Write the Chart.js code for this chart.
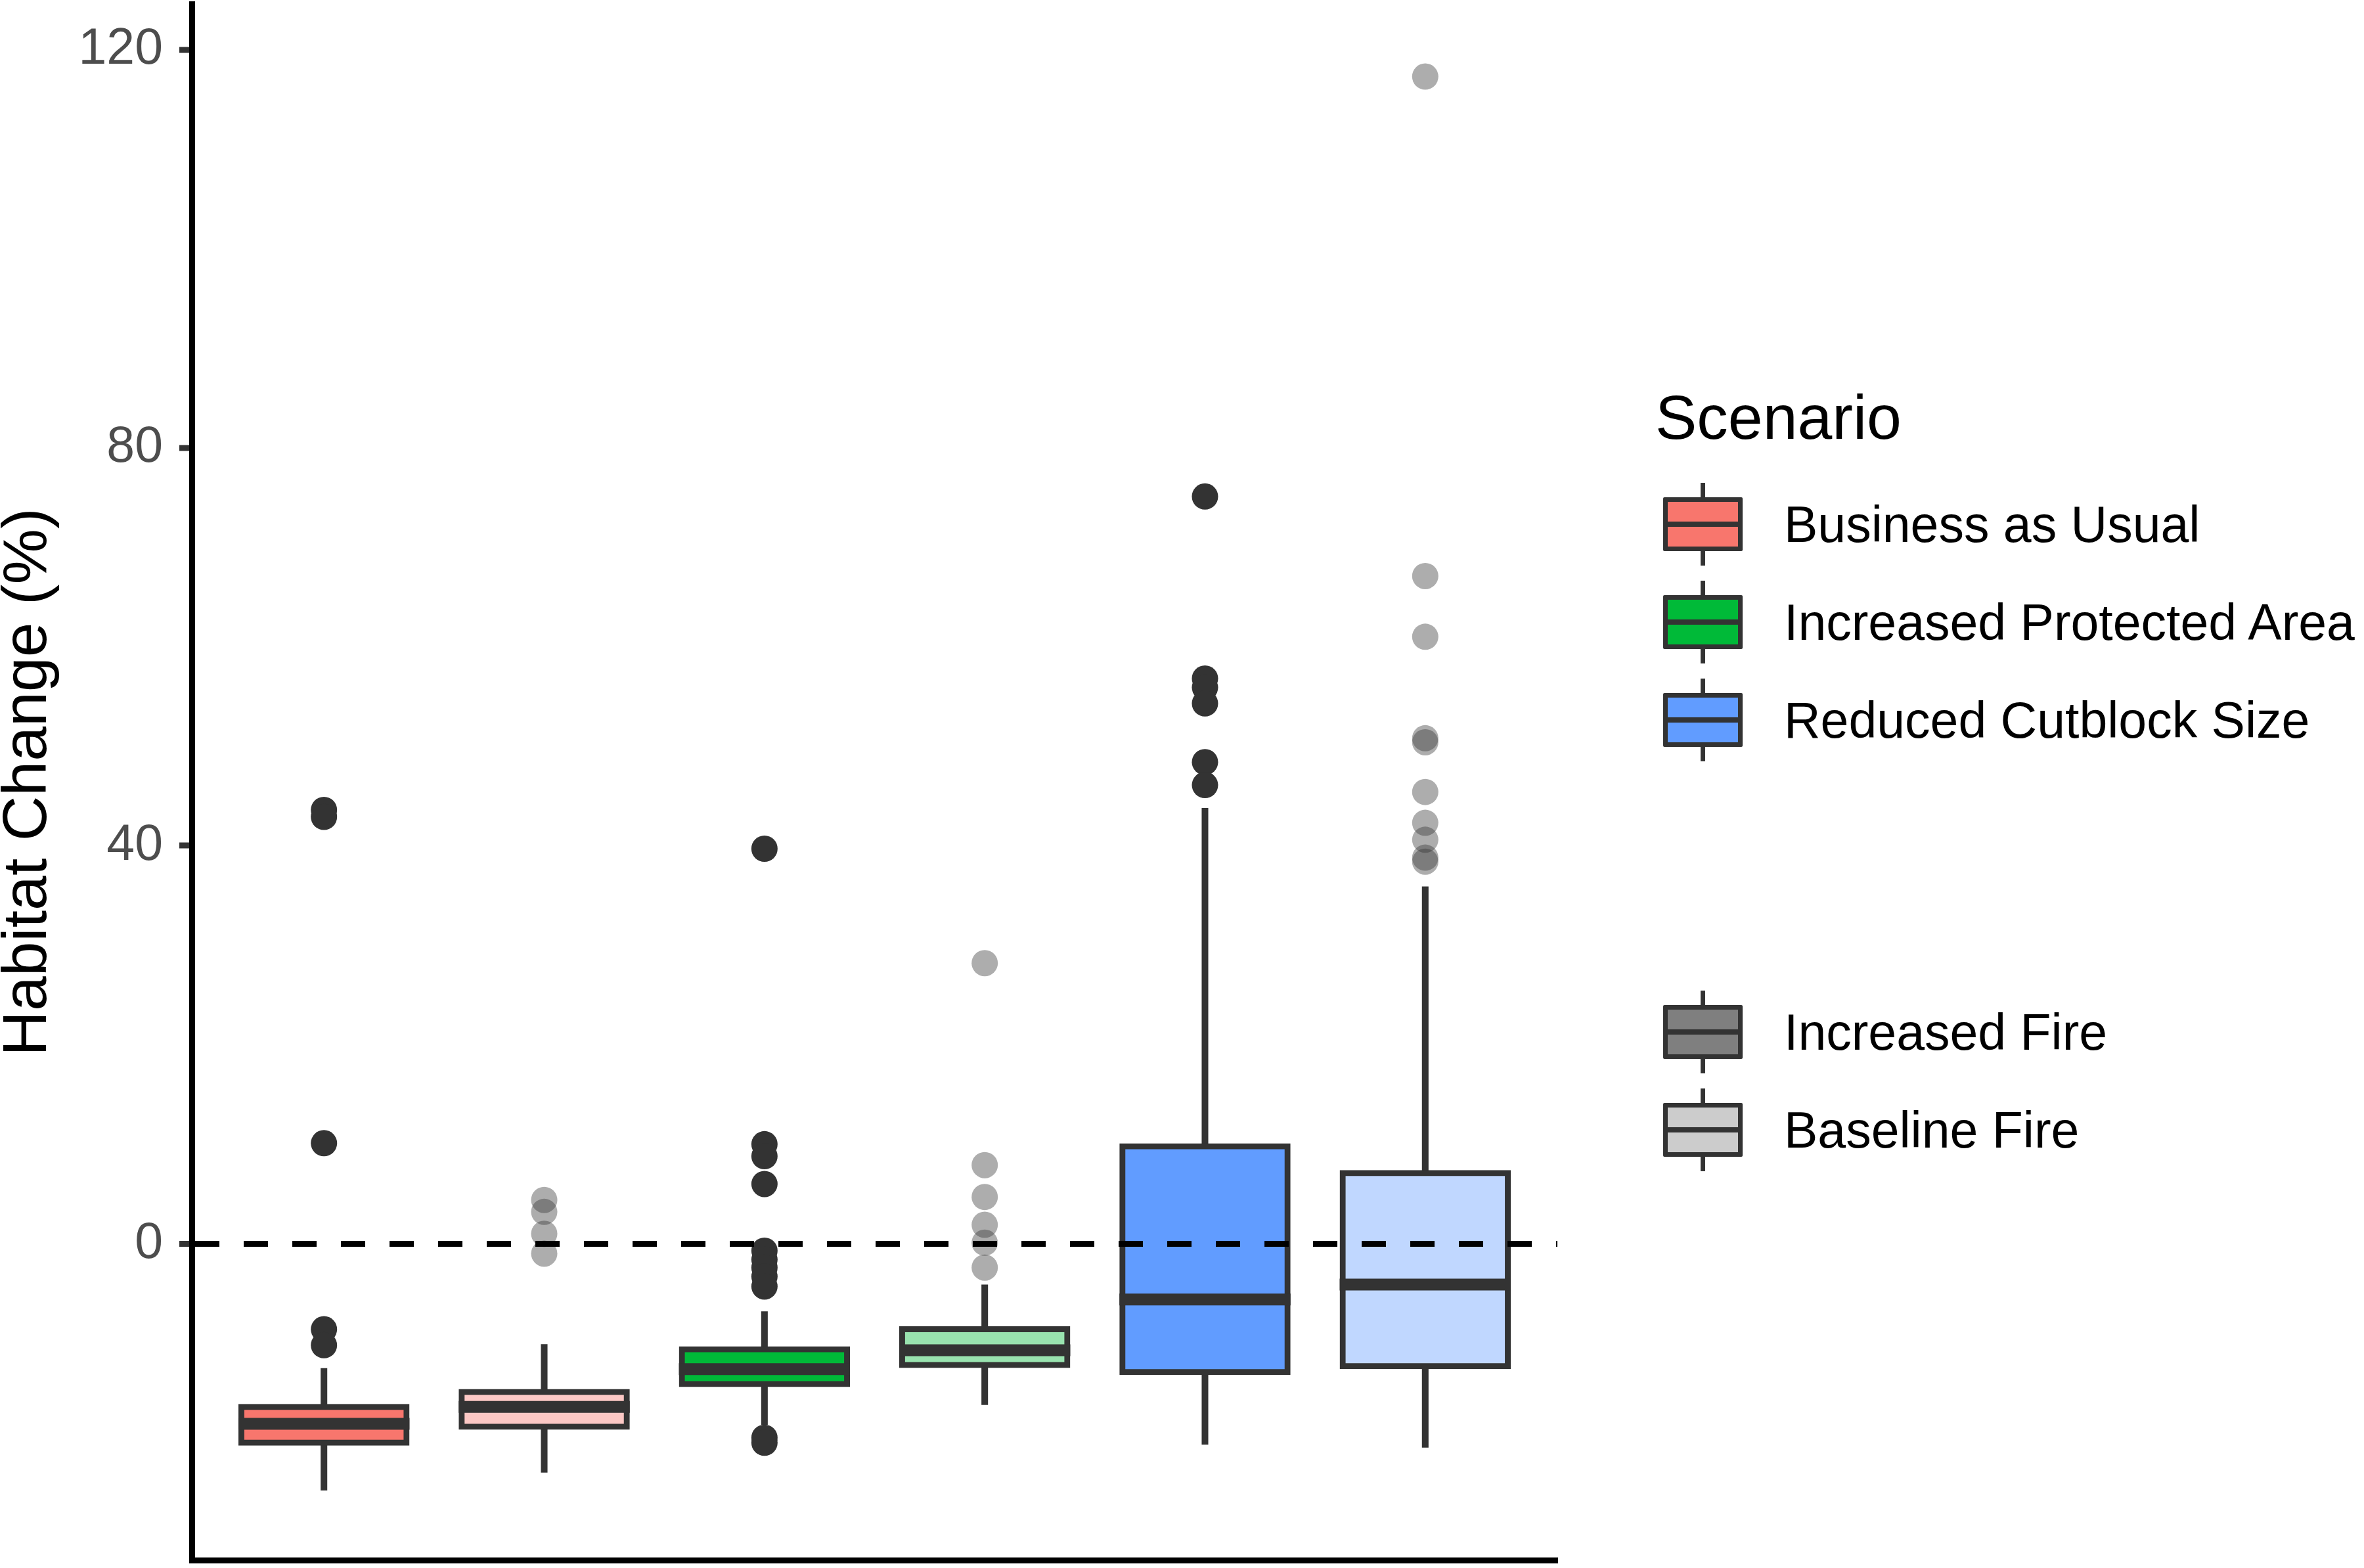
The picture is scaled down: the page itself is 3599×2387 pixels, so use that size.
<!DOCTYPE html>
<html>
<head>
<meta charset="utf-8">
<title>Habitat Change by Scenario</title>
<script src="https://cdn.jsdelivr.net/npm/chart.js@4.4.1/dist/chart.umd.min.js"></script>
<style>
  html, body { margin: 0; padding: 0; background: #fff; }
  #wrap { position: relative; width: 3599px; height: 2387px; }
  #legend { position: absolute; left: 0; top: 0; font-family: "Liberation Sans", Arial, sans-serif; color: #000; }
  #legend .title { position: absolute; left: 2520px; top: 588px; font-size: 95px; line-height: 1; white-space: nowrap; }
  #legend .item { position: absolute; left: 2532px; height: 126px; display: flex; align-items: center; white-space: nowrap; font-size: 77px; line-height: 1; }
  .glyph { position: relative; width: 121px; height: 126px; margin-right: 63px; flex: none; }
  .glyph .wh { position: absolute; left: 57px; width: 7px; top: 0; bottom: 0; background: #333; }
  .glyph .bx { position: absolute; left: 0; right: 0; top: 22px; height: 82px; border: 7px solid #333; box-sizing: border-box; border-radius: 2px; }
  .glyph .md { position: absolute; left: 0; right: 0; top: 59px; height: 8px; background: #333; }
</style>
</head>
<body>
<div id="wrap">
  <canvas id="chart"></canvas>
  <div id="legend"></div>
</div>
<script>
// one box per scenario x fire level, left to right
const scenarios = ['Business as Usual', 'Business as Usual', 'Increased Protected Area',
                   'Increased Protected Area', 'Reduced Cutblock Size', 'Reduced Cutblock Size']
const fireLevels = ['Increased Fire', 'Baseline Fire', 'Increased Fire', 'Baseline Fire', 'Increased Fire', 'Baseline Fire']
const xPositions = [1, 2, 3, 4, 5, 6]

const whiskerLow  = [-24.8, -23.0, -18.2, -16.2, -20.2, -20.5]
const lowerQuart  = [-20.0, -18.4, -14.1, -12.2, -12.9, -12.3]
const medians     = [-18.1, -16.4, -12.6, -10.7,  -5.6,  -4.1]
const upperQuart  = [-16.4, -14.9, -10.6,  -8.6,   9.8,   7.1]
const whiskerHigh = [-12.5, -10.1,  -6.8,  -4.1,  43.8,  35.9]

const outliers = [
  [43.6, 42.9, 10.1, -8.6, -10.2],
  [4.4, 3.2, 1.0, -1.0],
  [39.7, 10.0, 8.8, 6.0, -0.7, -1.6, -2.4, -3.3, -4.3, -19.5, -20.0],
  [28.2, 7.9, 4.7, 1.9, 0.1, -2.4],
  [75.1, 56.8, 55.9, 54.3, 48.4, 46.1],
  [117.3, 67.1, 61.0, 50.8, 50.4, 45.4, 42.3, 40.6, 38.8, 38.4]
]

const yTicks = [0, 40, 80, 120]
const yMin = -31.8
const yMax = 124.6

const boxFills = ['#F8766D', '#FCC8C5', '#00BA38', '#99E3AF', '#619CFF', '#C0D7FF']

const legendLabels = ['Business as Usual', 'Increased Protected Area', 'Reduced Cutblock Size', 'Increased Fire', 'Baseline Fire']
const legendFills = ['#F8766D', '#00BA38', '#619CFF', '#7F7F7F', '#CCCCCC']
const legendTops = [735, 884, 1033, 1508, 1657]

const boxWidthFrac = 0.75
const boxStroke = 9
const dark = '#333333'
const faded = 'rgba(51, 51, 51, 0.4)'

// outlier points, split by fire level (increased = solid, baseline = faded)
const outlierPoints = (level) => {
  const pts = []
  xPositions.forEach((x, i) => {
    if (fireLevels[i] !== level) return
    outliers[i].forEach(v => pts.push({ x: x, y: v }))
  })
  return pts
}

// half the drawn box width in pixels, stroke included
const halfBox = (chart) => {
  const xs = chart.scales.x
  return Math.abs(xs.getPixelForValue(1) - xs.getPixelForValue(0)) * boxWidthFrac / 2 + boxStroke / 2
}

Chart.defaults.font.family = '"Liberation Sans", Arial, sans-serif'

const ctx = document.getElementById('chart').getContext('2d')
ctx.canvas.width = 3599
ctx.canvas.height = 2387

new Chart(ctx, {
  type: 'bar',
  data: {
    datasets: [
      {
        type: 'scatter',
        label: 'Outliers (increased fire)',
        data: outlierPoints('Increased Fire'),
        pointRadius: 20,
        pointBackgroundColor: dark,
        pointBorderWidth: 0,
        order: 0
      },
      {
        type: 'scatter',
        label: 'Outliers (baseline fire)',
        data: outlierPoints('Baseline Fire'),
        pointRadius: 20,
        pointBackgroundColor: faded,
        pointBorderWidth: 0,
        order: 0
      },
      {
        type: 'scatter',
        label: 'Median',
        data: xPositions.map((x, i) => ({ x: x, y: medians[i] })),
        pointStyle: 'line',
        pointRadius: (c) => halfBox(c.chart),
        pointBorderColor: dark,
        pointBorderWidth: 18,
        order: 1
      },
      {
        label: 'Box',
        data: xPositions.map((x, i) => ({ x: x, y: [lowerQuart[i], upperQuart[i]] })),
        backgroundColor: boxFills,
        borderColor: dark,
        borderWidth: boxStroke,
        borderSkipped: false,
        inflateAmount: boxStroke / 2,   // centre the stroke on the quartile edges
        grouped: false,
        categoryPercentage: 1,
        barPercentage: boxWidthFrac,
        order: 2
      },
      {
        label: 'Whisker',
        data: xPositions.map((x, i) => ({ x: x, y: [whiskerLow[i], whiskerHigh[i]] })),
        backgroundColor: dark,
        borderWidth: 0,
        inflateAmount: 0,
        grouped: false,
        categoryPercentage: 1,
        barPercentage: 0.03,
        order: 3
      }
    ]
  },
  options: {
    responsive: false,
    animation: false,
    events: [],
    layout: { autoPadding: false, padding: { top: 6, right: 1228, bottom: 0, left: 0 } },
    plugins: {
      legend: { display: false },
      tooltip: { enabled: false }
    },
    scales: {
      x: {
        type: 'linear',
        min: 0.4,
        max: 6.6,
        offset: false,
        afterBuildTicks: (s) => { s.ticks = xPositions.map(v => ({ value: v })) },
        afterFit: (s) => { s.height = 12; s.paddingLeft = 0; s.paddingRight = 0 },
        ticks: { display: false },
        grid: { display: false, offset: false },
        border: { display: true, color: '#000', width: 9 }
      },
      y: {
        type: 'linear',
        min: yMin,
        max: yMax,
        afterBuildTicks: (s) => { s.ticks = yTicks.map(v => ({ value: v })) },
        afterFit: (s) => { s.width = 292; s.paddingTop = 0; s.paddingBottom = 0 },
        ticks: {
          color: '#4D4D4D',
          font: { size: 77 },
          padding: 25
        },
        grid: {
          z: 1,
          color: (c) => (c.tick && c.tick.value === 0 ? '#000' : 'rgba(0,0,0,0)'),
          lineWidth: (c) => (c.tick && c.tick.value === 0 ? 9 : 0),
          tickColor: dark,
          tickWidth: 9,
          tickLength: 19
        },
        border: { display: true, color: '#000', width: 9, dash: [37, 37], z: 1 },
        title: {
          display: true,
          text: 'Habitat Change (%)',
          color: '#000',
          font: { size: 95, lineHeight: 0.93 },
          padding: 0
        }
      }
    }
  }
})

// legend (two guides: scenario fill, then fire level)
const legend = document.getElementById('legend')
const title = document.createElement('div')
title.className = 'title'
title.textContent = 'Scenario'
legend.appendChild(title)
legendLabels.forEach((name, i) => {
  const item = document.createElement('div')
  item.className = 'item'
  item.style.top = legendTops[i] + 'px'
  item.innerHTML = '<div class="glyph"><div class="wh"></div><div class="bx"></div><div class="md"></div></div>'
  item.querySelector('.bx').style.background = legendFills[i]
  const label = document.createElement('span')
  label.textContent = name
  item.appendChild(label)
  legend.appendChild(item)
})
</script>
</body>
</html>
